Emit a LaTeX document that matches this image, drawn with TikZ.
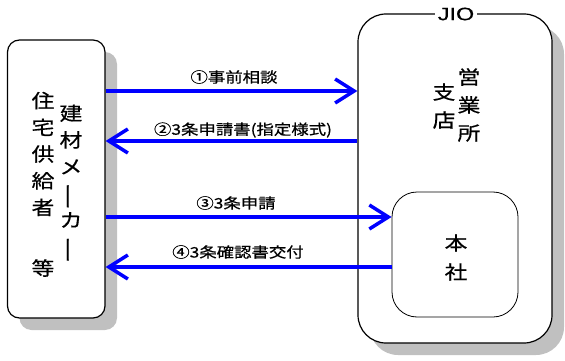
\documentclass[tikz,border=0pt]{standalone}
\usepackage{fontspec}
\usepackage{graphicx}
\setmainfont{Noto Sans CJK JP}[FakeStretch=1.2,FakeBold=0.6]
\newfontfamily\latinfont{Liberation Sans}[FakeBold=0.4]
\usetikzlibrary{arrows.meta,shadows}
\definecolor{flowblue}{HTML}{0000FF}
\definecolor{shadowgray}{HTML}{C0C0C0}
\newcommand\vlong{\rotatebox[origin=c]{90}{\scalebox{1.2}[1]{ー}}}
\tikzset{
  shadowed/.style={drop shadow={shadow xshift=12pt,shadow yshift=-12pt,fill=shadowgray,opacity=1}},
  bigbox/.style={draw=black,line width=1.2pt,fill=white,inner sep=0pt},
  innerbox/.style={draw=black,line width=0.8pt,fill=white,inner sep=0pt},
  flow/.style={draw=flowblue,line width=3.5pt,-{Straight Barb[length=19pt,width=24pt,line width=3.5pt]}},
  lbl/.style={font=\fontsize{14.5}{16}\selectfont,inner sep=0pt},
  col/.style={font=\fontsize{19}{26.7}\selectfont,align=center,inner sep=0pt},
}
\begin{document}
\begin{tikzpicture}[x=1pt,y=-1pt]
\useasboundingbox (0,0) rectangle (565,361);
% boxes
\node[bigbox,shadowed,rounded corners=12pt,minimum width=97.5pt,minimum height=278pt] (maker) at (56.25,179) {};
\node[bigbox,shadowed,rounded corners=28pt,minimum width=194pt,minimum height=329pt] (jio) at (455,178.5) {};
\node[innerbox,rounded corners=25pt,minimum width=126pt,minimum height=125pt] (honsha) at (455,254.5) {};
\node[fill=white,inner sep=3pt,font=\latinfont\fontsize{18}{20}\selectfont] (jiolbl) at (456,14) {\scalebox{1.3}[1]{JIO}};
% texts
\node[col] (jutaku) at (43,154) {住\\宅\\供\\給\\者};
\node[col] (tou) at (43,268) {等};
\node[col] (kenzai) at (71,184) {建\\材\\メ\\\vlong\\カ\\\vlong};
\node[col,font=\fontsize{19}{28}\selectfont] (eigyo) at (469,105) {営\\業\\所};
\node[col,font=\fontsize{19}{28}\selectfont] (shiten) at (444,106) {支\\店};
\node[col,font=\fontsize{19}{29}\selectfont] (hon) at (456,257.5) {本\\社};
% arrow levels
\coordinate (y1) at (0,91);
\coordinate (y2) at (0,141);
\coordinate (y3) at (0,217);
\coordinate (y4) at (0,267);
\draw[flow] (maker.east |- y1) -- (jio.west |- y1);
\draw[flow] (jio.west |- y2) -- (maker.east |- y2);
\draw[flow] (maker.east |- y3) -- (honsha.west |- y3);
\draw[flow] (honsha.west |- y4) -- (maker.east |- y4);
\node[lbl] (l1) at (234,77) {①事前相談};
\node[lbl] (l2) at (243,130) {②3条申請書(指定様式)};
\node[lbl] (l3) at (236,203) {③3条申請};
\node[lbl] (l4) at (238,252) {④3条確認書交付};
\end{tikzpicture}
\end{document}
